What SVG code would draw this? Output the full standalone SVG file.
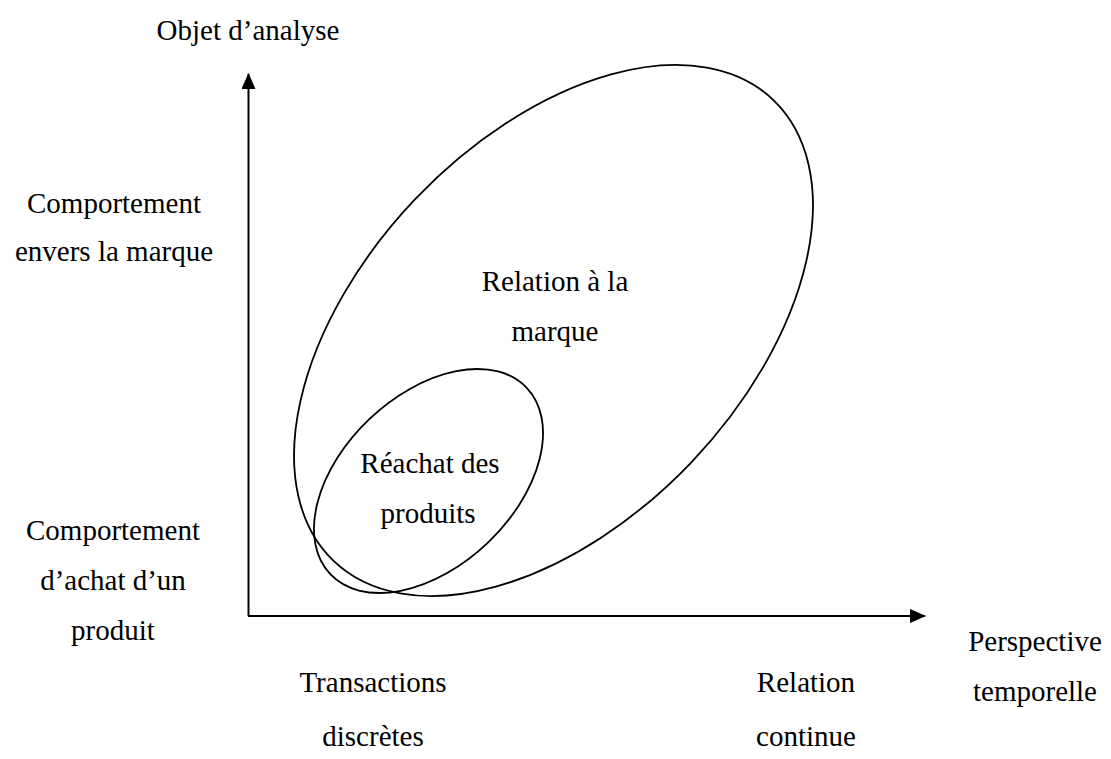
<svg xmlns="http://www.w3.org/2000/svg" width="1111" height="759" viewBox="0 0 1111 759">
<style>
text{font-family:"Liberation Serif","Times New Roman",serif;font-size:29px;fill:#000;text-anchor:middle}
.ax{stroke:#000;stroke-width:2;fill:none}
.el{stroke:#000;stroke-width:1.8;fill:none}
</style>
<defs>
<marker id="ah" viewBox="0 0 16 14" refX="15" refY="7" markerWidth="16" markerHeight="14" markerUnits="userSpaceOnUse" orient="auto">
<path d="M0,0 L16,7 L0,14 Z" fill="#000"/>
</marker>
</defs>
<rect width="1111" height="759" fill="#fff"/>
<g id="connectors">
<line class="ax" x1="248.5" y1="616" x2="248.5" y2="74" marker-end="url(#ah)"/>
<line class="ax" x1="248" y1="616" x2="925" y2="616" marker-end="url(#ah)"/>
</g>
<g id="axis-y-title"><text x="248" y="40">Objet d’analyse</text></g>
<g id="label-brand"><text x="114" y="213">Comportement</text><text x="114" y="261">envers la marque</text></g>
<g id="label-product"><text x="113" y="540">Comportement</text><text x="113" y="590">d’achat d’un</text><text x="113" y="640">produit</text></g>
<g id="axis-x-title"><text x="1035" y="651">Perspective</text><text x="1035" y="701">temporelle</text></g>
<g id="label-discrete"><text x="373" y="692">Transactions</text><text x="373" y="746">discrètes</text></g>
<g id="label-continuous"><text x="806" y="692">Relation</text><text x="806" y="746">continue</text></g>
<g id="relation-marque">
<ellipse class="el" cx="553.5" cy="330.5" rx="318.5" ry="190.7" transform="rotate(-46.4 553.5 330.5)"/>
<text x="555" y="291">Relation à la</text><text x="555" y="341">marque</text>
</g>
<g id="reachat-produits">
<ellipse class="el" cx="428.5" cy="481" rx="135.4" ry="85.6" transform="rotate(-43.5 428.5 481)"/>
<text x="430" y="473">Réachat des</text><text x="428" y="523">produits</text>
</g>
</svg>
